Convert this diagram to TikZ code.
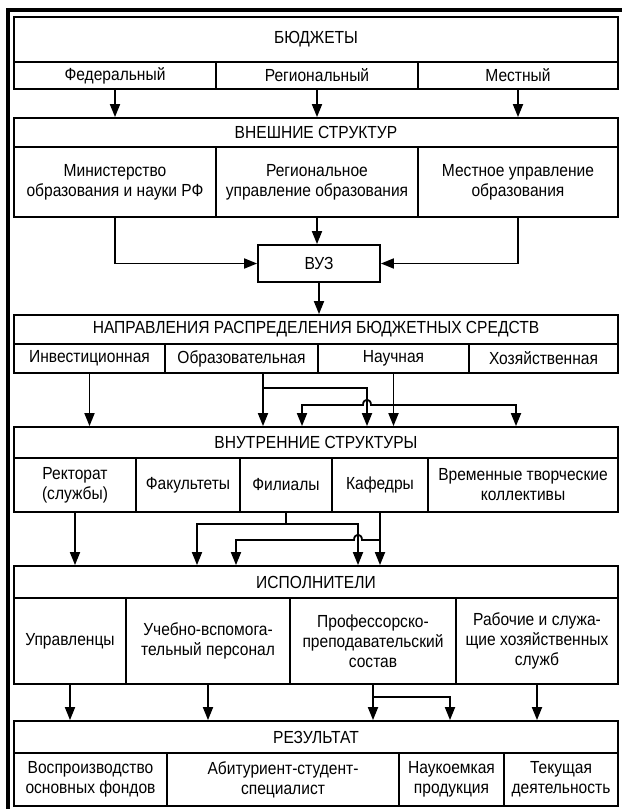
\documentclass[tikz,border=0pt]{standalone}
\usepackage{fontspec}
\setmainfont{Liberation Sans}[FakeStretch=0.89]
\usetikzlibrary{arrows.meta}
\tikzset{
  cell/.style={draw, line width=1.8pt, inner sep=0pt, align=center, font=\fontsize{17.5}{20}\selectfont},
  conn/.style={line width=1.8pt},
  arr/.style={conn, -{Triangle[length=13pt,width=10pt]}},
}
\newcommand\cellbox[6]{%
  \pgfmathsetmacro\mycw{#4-#2}\pgfmathsetmacro\mych{#5-#3}%
  \node[cell, minimum width=\mycw pt, minimum height=\mych pt] (#1) at ({(#2+#4)/2},{(#3+#5)/2}) {#6};
}
\begin{document}
\begin{tikzpicture}[x=1pt,y=-1pt]
\useasboundingbox (0,0) rectangle (622,809);
\draw[line width=4pt] (8,809) -- (8,10) -- (622,10);
% row 1
\cellbox{b0}{14}{17}{618}{62}{БЮДЖЕТЫ}
\cellbox{b1}{14}{62}{216}{89}{Федеральный}
\cellbox{b2}{216}{62}{418}{89}{Региональный}
\cellbox{b3}{418}{62}{618}{89}{Местный}
% row 2
\cellbox{e0}{14}{118}{618}{147}{ВНЕШНИЕ СТРУКТУР}
\cellbox{e1}{14}{147}{216}{217}{Министерство\\образования и науки РФ}
\cellbox{e2}{216}{147}{418}{217}{Региональное\\управление образования}
\cellbox{e3}{418}{147}{618}{217}{Местное управление\\образования}
\cellbox{vuz}{258}{245}{380}{282}{ВУЗ}
% row 3
\cellbox{n0}{14}{315}{618}{344}{НАПРАВЛЕНИЯ РАСПРЕДЕЛЕНИЯ БЮДЖЕТНЫХ СРЕДСТВ}
\cellbox{n1}{14}{344}{165}{373}{Инвестиционная}
\cellbox{n2}{165}{344}{318}{373}{Образовательная}
\cellbox{n3}{318}{344}{469}{373}{Научная}
\cellbox{n4}{469}{344}{618}{373}{Хозяйственная}
% row 4
\cellbox{i0}{14}{427}{618}{458}{ВНУТРЕННИЕ СТРУКТУРЫ}
\cellbox{i1}{14}{458}{136}{512}{Ректорат\\(службы)}
\cellbox{i2}{136}{458}{240}{512}{Факультеты}
\cellbox{i3}{240}{458}{332}{512}{Филиалы}
\cellbox{i4}{332}{458}{428}{512}{Кафедры}
\cellbox{i5}{428}{458}{618}{512}{Временные творческие\\коллективы}
% row 5
\cellbox{x0}{14}{566}{618}{598}{ИСПОЛНИТЕЛИ}
\cellbox{x1}{14}{598}{126}{684}{Управленцы}
\cellbox{x2}{126}{598}{290}{684}{Учебно-вспомога-\\тельный персонал}
\cellbox{x3}{290}{598}{456}{684}{Профессорско-\\преподавательский\\состав}
\cellbox{x4}{456}{598}{618}{684}{Рабочие и служа-\\щие хозяйственных\\служб}
% row 6
\cellbox{r0}{14}{721}{618}{753}{РЕЗУЛЬТАТ}
\cellbox{r1}{14}{753}{167}{806}{Воспроизводство\\основных фондов}
\cellbox{r2}{167}{753}{399}{806}{Абитуриент-студент-\\специалист}
\cellbox{r3}{399}{753}{504}{806}{Наукоемкая\\продукция}
\cellbox{r4}{504}{753}{618}{806}{Текущая\\деятельность}
% connectors row 1 -> 2
\draw[arr] (b1.south) -- (b1.south |- e0.north);
\draw[arr] (b2.south) -- (b2.south |- e0.north);
\draw[arr] (b3.south) -- (b3.south |- e0.north);
% row 2 -> VUZ
\draw[arr] (e1.south) |- (vuz.west);
\draw[arr] (e2.south) -- (e2.south |- vuz.north);
\draw[arr] (e3.south) |- (vuz.east);
\draw[arr] (vuz.south) -- (vuz.south |- n0.north);
% row 3 -> 4
\coordinate (oA) at (263,373);
\coordinate (oB) at (263,388);
\coordinate (oC) at (367,388);
\coordinate (hJ) at (393,405);
\coordinate (hL) at (302,405);
\coordinate (hR) at (516,405);
\draw[arr] (n1.south) -- (n1.south |- i0.north);
\draw[arr] (oA) -- (oA |- i0.north);
\draw[arr] (oB) -- (oC) -- (oC |- i0.north);
\draw[arr] (n3.south) -- (n3.south |- i0.north);
\draw[arr] (hJ) -- (371,405) .. controls (371,398) and (363,398) .. (363,405) -- (hL) -- (hL |- i0.north);
\draw[arr] (hJ) -- (hR) -- (hR |- i0.north);
% row 4 -> 5
\coordinate (fL) at (197,524);
\coordinate (fR) at (358,524);
\coordinate (kJ) at (380,540);
\coordinate (kL) at (236,540);
\draw[arr] (i1.south) -- (i1.south |- x0.north);
\draw[arr] (i3.south) |- (fL) -- (fL |- x0.north);
\draw[arr] (i3.south) |- (fR) -- (fR |- x0.north);
\draw[arr] (i4.south) -- (i4.south |- x0.north);
\draw[arr] (kJ) -- (362,540) .. controls (362,533) and (354,533) .. (354,540) -- (kL) -- (kL |- x0.north);
% row 5 -> 6
\coordinate (pR) at (450,697);
\draw[arr] (x1.south) -- (x1.south |- r0.north);
\draw[arr] (x2.south) -- (x2.south |- r0.north);
\draw[arr] (x3.south) -- (x3.south |- r0.north);
\draw[arr] (x3.south) |- (pR) -- (pR |- r0.north);
\draw[arr] (x4.south) -- (x4.south |- r0.north);
\end{tikzpicture}
\end{document}
